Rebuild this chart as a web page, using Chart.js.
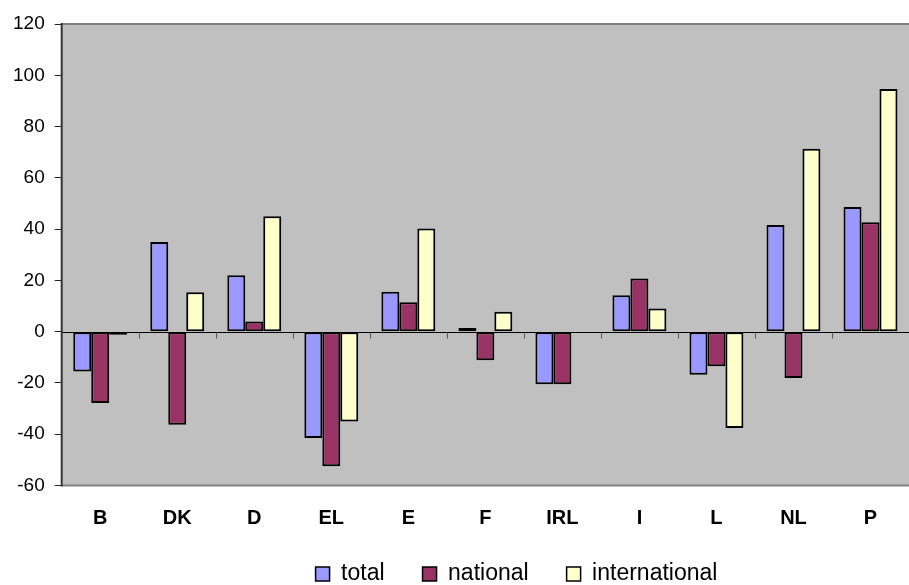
<!DOCTYPE html>
<html>
<head>
<meta charset="utf-8">
<script src="https://cdn.jsdelivr.net/npm/chart.js@4.4.0/dist/chart.umd.min.js"></script>
<style>
html,body{margin:0;padding:0;background:#fff;}
#wrap{width:909px;height:585px;position:relative;}
</style>
</head>
<body>
<div id="wrap"><canvas id="c" width="909" height="585"></canvas></div>
<script>
const categories = ["B","DK","D","EL","E","F","IRL","I","L","NL","P"];
const totalValues = [-15.5, 35, 22, -41.5, 15.6, 1.4, -20.5, 14.2, -16.8, 41.6, 48.6];
const nationalValues = [-27.8, -36.3, 4.0, -52.5, 11.5, -11.1, -20.5, 20.7, -13.5, -18.1, 42.7];
const internationalValues = [-1.2, 15.4, 45, -35, 40.2, 7.8, null, 9.0, -37.6, 71.3, 94.6];
const yTicks = [120,100,80,60,40,20,0,-20,-40,-60];

const FONT = 'Liberation Sans, Arial, sans-serif';

const plotDeco = {
  id: 'plotDeco',
  afterLayout(chart) {
    if (chart.legend) {
      chart.legend.left += 60.5;
      chart.legend.right += 60.5;
    }
  },
  beforeDatasetsDraw(chart) {
    const {ctx, chartArea: a} = chart;
    ctx.save();
    ctx.fillStyle = '#C0C0C0';
    ctx.fillRect(a.left, a.top, a.right - a.left, a.bottom - a.top);
    ctx.restore();
  },
  afterDatasetsDraw(chart) {
    const {ctx, chartArea: a, scales} = chart;
    const y0 = Math.round(scales.y.getPixelForValue(0)) + 0.5;
    ctx.save();
    ctx.strokeStyle = '#000';
    ctx.lineWidth = 1;
    ctx.beginPath();
    ctx.moveTo(a.left, y0); ctx.lineTo(a.right, y0);
    ctx.stroke();
    ctx.strokeStyle = '#555';
    ctx.beginPath();
    const n = categories.length;
    const w = (a.right - a.left) / n;
    for (let i = 1; i < n; i++) {
      const x = Math.round(a.left + i * w) + 0.5;
      ctx.moveTo(x, y0); ctx.lineTo(x, y0 + 6);
    }
    ctx.stroke();
    ctx.strokeStyle = '#808080';
    ctx.lineWidth = 2;
    ctx.beginPath();
    ctx.moveTo(a.left, a.top); ctx.lineTo(a.right, a.top);
    ctx.moveTo(a.left, a.bottom); ctx.lineTo(a.right, a.bottom);
    ctx.stroke();
    ctx.strokeStyle = '#333';
    ctx.lineWidth = 2;
    ctx.beginPath();
    ctx.moveTo(a.left, a.top - 1); ctx.lineTo(a.left, a.bottom + 1);
    ctx.stroke();
    ctx.restore();
  }
};

new Chart(document.getElementById('c'), {
  type: 'bar',
  data: {
    labels: categories,
    datasets: [
      {label: 'total', data: totalValues, backgroundColor: '#9999FF', borderColor: '#000', borderWidth: 2, borderSkipped: false},
      {label: 'national', data: nationalValues, backgroundColor: '#993366', borderColor: '#000', borderWidth: 2, borderSkipped: false},
      {label: 'international', data: internationalValues, backgroundColor: '#FFFFCC', borderColor: '#000', borderWidth: 2, borderSkipped: false}
    ]
  },
  options: {
    responsive: false,
    animation: false,
    devicePixelRatio: 1,
    categoryPercentage: 0.7,
    barPercentage: 1.0,
    layout: {padding: {top: 24, right: 0, left: 3, bottom: -10.5}},
    plugins: {
      legend: {
        position: 'bottom',
        labels: {
          font: {family: FONT, size: 23},
          color: '#000',
          boxWidth: 14, boxHeight: 14,
          padding: 38,
          generateLabels(chart) {
            return chart.data.datasets.map((d, i) => ({
              text: d.label, fillStyle: d.backgroundColor, strokeStyle: '#000', lineWidth: 1.5, datasetIndex: i, fontColor: '#000'
            }));
          }
        }
      },
      tooltip: {enabled: false}
    },
    scales: {
      x: {
        grid: {display: false, drawTicks: false},
        border: {display: false},
        ticks: {font: {family: FONT, size: 20, weight: 'bold', lineHeight: 1.2}, color: '#000', padding: 21},
        afterFit(scale) { scale.height = 39; }
      },
      y: {
        min: -60, max: 120,
        afterBuildTicks(scale) { scale.ticks = yTicks.map(v => ({value: v})); },
        grid: {drawOnChartArea: false, drawTicks: true, tickLength: 7, color: '#222'},
        border: {display: false},
        ticks: {font: {family: FONT, size: 19}, color: '#000', padding: 10}
      }
    }
  },
  plugins: [plotDeco]
});
</script>
</body>
</html>
